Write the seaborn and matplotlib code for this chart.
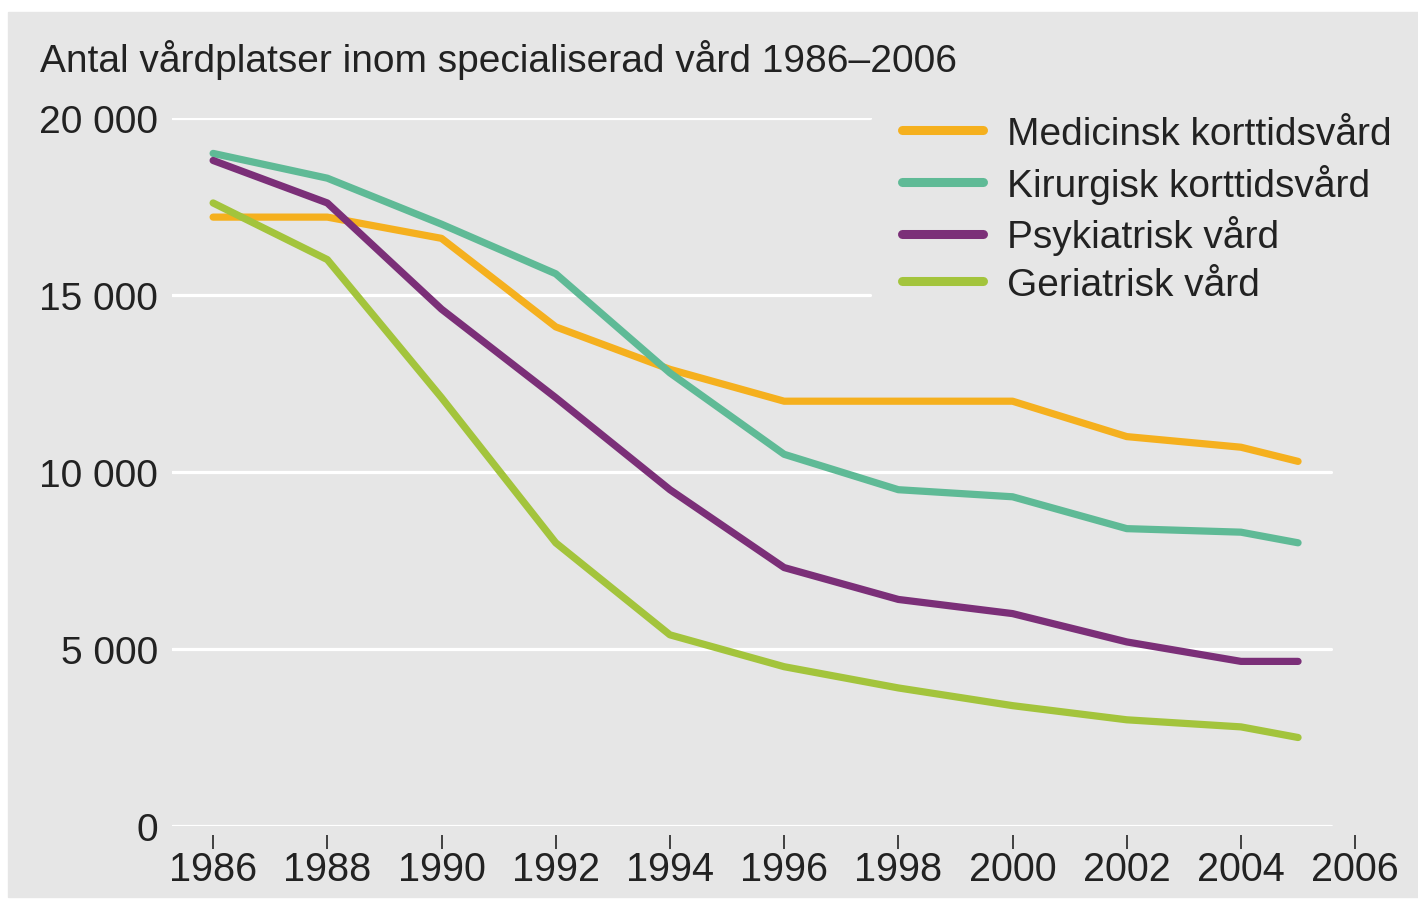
import pandas as pd
import matplotlib.pyplot as plt
import seaborn as sns
from matplotlib.lines import Line2D
from matplotlib.patches import Rectangle

# data
years = [1986, 1988, 1990, 1992, 1994, 1996, 1998, 2000, 2002, 2004, 2005]
medicinsk = [17200, 17200, 16600, 14100, 12900, 12000, 12000, 12000, 11000, 10700, 10300]
kirurgisk = [19000, 18300, 17000, 15600, 12800, 10500, 9500, 9300, 8400, 8300, 8000]
psykiatrisk = [18800, 17600, 14600, 12100, 9500, 7300, 6400, 6000, 5200, 4650, 4650]
geriatrisk = [17600, 16000, 12100, 8000, 5400, 4500, 3900, 3400, 3000, 2800, 2500]

series = ["Medicinsk korttidsvård", "Kirurgisk korttidsvård", "Psykiatrisk vård", "Geriatrisk vård"]
colors = ["#f5b01e", "#5fba96", "#7b2f78", "#a3c43c"]
yticks = [0, 5000, 10000, 15000, 20000]
xticks = list(range(1986, 2007, 2))
title = "Antal vårdplatser inom specialiserad vård 1986–2006"

df = pd.DataFrame({
    "year": years * 4,
    "value": medicinsk + kirurgisk + psykiatrisk + geriatrisk,
    "series": [s for s in series for _ in years],
})

sns.set_style("white")
plt.rcParams["font.family"] = ["Liberation Sans", "DejaVu Sans"]

W, H = 1418, 903
fig = plt.figure(figsize=(W / 100, H / 100), dpi=100)
fig.patch.set_facecolor("white")
fig.patches.append(Rectangle((8 / W, 1 - 898 / H), 1 - 8 / W, (898 - 13) / H,
                             transform=fig.transFigure, color="#e6e6e6", zorder=-10))

ax = fig.add_axes([172 / W, 1 - 827 / H, (1378 - 172) / W, (827 - 119) / H])
ax.set_facecolor("none")
ax.set_zorder(2)

# white gridlines, the top two stop where the legend sits
for v in yticks:
    xmax = 0.579 if v >= 15000 else 0.961
    ax.axhline(v, xmin=0, xmax=xmax, color="white", lw=2.3, zorder=0.5)

sns.lineplot(data=df, x="year", y="value", hue="series", palette=colors,
             lw=5.2, ax=ax, legend=False, zorder=3)

ax.set_xlim(1985.28, 2006.4)
ax.set_ylim(0, 20000)
ax.set_xticks(xticks)
ax.set_yticks(yticks)
ax.set_yticklabels([f"{v:,}".replace(",", " ") for v in yticks])
ax.set_xlabel("")
ax.set_ylabel("")
for s in ax.spines.values():
    s.set_visible(False)
ax.spines["bottom"].set_position(("outward", 6.5))
ax.tick_params(axis="x", bottom=True, length=10, width=1.3, color="#333333", pad=1,
               labelsize=28.5, labelcolor="#222222")
ax.tick_params(axis="y", left=False, length=0, pad=10, labelsize=28, labelcolor="#222222")

handles = [Line2D([0], [0], color=c, lw=6.5) for c in colors]
leg = ax.legend(handles, series, loc="upper left",
                bbox_to_anchor=(902 / W, 1 - 117 / H), bbox_transform=fig.transFigure,
                frameon=False, fontsize=28, handlelength=2.08, handletextpad=0.62,
                labelspacing=0.3, borderpad=0, borderaxespad=0)
for t in leg.get_texts():
    t.set_color("#222222")

fig.text(40 / W, 1 - 60 / H, title, fontsize=28, color="#222222", va="center", ha="left")

fig.savefig("out.png", dpi=100)
